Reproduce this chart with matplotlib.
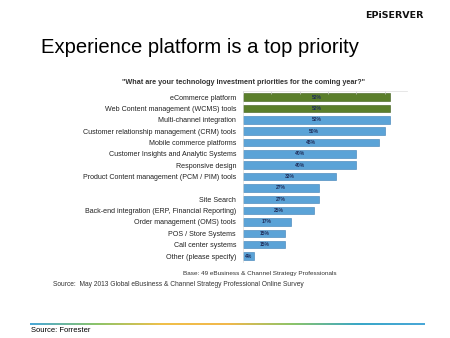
import numpy as np
import matplotlib.pyplot as plt
from matplotlib.colors import LinearSegmentedColormap

plt.rcParams['font.family'] = ['Liberation Sans', 'DejaVu Sans']

categories = [
    'eCommerce platform',
    'Web Content management (WCMS) tools',
    'Multi-channel integration',
    'Customer relationship management (CRM) tools',
    'Mobile commerce platforms',
    'Customer Insights and Analytic Systems',
    'Responsive design',
    'Product Content management (PCM / PIM) tools',
    '',
    'Site Search',
    'Back-end integration (ERP, Financial Reporting)',
    'Order management (OMS) tools',
    'POS / Store Systems',
    'Call center systems',
    'Other (please specify)',
]
values = [52, 52, 52, 50, 48, 40, 40, 33, 27, 27, 25, 17, 15, 15, 4]
highlight = [True, True] + [False] * 13

green = '#5b7f2b'
blue = '#5ba3d7'

fig = plt.figure(figsize=(4.5, 3.38), dpi=100)
fig.patch.set_facecolor('white')

# slide header
fig.text(0.942, 0.955, 'EPiSERVER', ha='right', va='center', fontsize=6.8,
         fontweight='bold', family='DejaVu Sans', color='#111111')
fig.text(0.091, 0.844, 'Experience platform is a top priority', ha='left',
         va='baseline', fontsize=14.6, color='black')

ax = fig.add_axes([0.54, 0.2257, 0.365, 0.504])
y = np.arange(len(values))
colors = [green if h else blue for h in highlight]
edges = ['#3f5e1c' if h else '#3c7fb5' for h in highlight]
ax.barh(y, values, height=0.66, color=colors, edgecolor=edges, linewidth=0.4)
for yi, v in zip(y, values):
    ax.text(v / 2, yi, f'{v}%', ha='center', va='center', fontsize=3.6,
            fontweight='bold', color='#1f2d5a')

ax.set_xlim(0, 58)
ax.set_ylim(len(values) - 0.5, -0.5)
ax.set_yticks(y)
ax.set_yticklabels(categories, fontsize=5.15, color='#222222')
ax.tick_params(axis='y', length=0, pad=5)
ax.xaxis.tick_top()
ax.set_xticks(np.arange(0, 60, 10))
ax.tick_params(axis='x', direction='in', length=2, width=0.5, color='#c8c8c8',
               labeltop=False)
for side in ['right', 'bottom']:
    ax.spines[side].set_visible(False)
for side in ['top', 'left']:
    ax.spines[side].set_color('#dddddd')
    ax.spines[side].set_linewidth(0.5)

fig.text(0.54, 0.757, '"What are your technology investment priorities for the coming year?"',
         ha='center', va='center', fontsize=5.2, fontweight='bold', color='#333333')
fig.text(0.749, 0.192, 'Base: 49 eBusiness & Channel Strategy Professionals',
         ha='right', va='center', fontsize=4.6, color='#333333')
fig.text(0.118, 0.159, 'Source:  May 2013 Global eBusiness & Channel Strategy Professional Online Survey',
         ha='left', va='center', fontsize=4.75, color='#333333')

# footer rule with colour gradient
rule = fig.add_axes([0.066, 0.038, 0.876, 0.006])
cmap = LinearSegmentedColormap.from_list(
    'rule', ['#4aa8d8', '#8cc46a', '#f0c04a', '#f2b84c', '#8cc46a', '#3aa7c8', '#4aa8d8'])
rule.imshow(np.linspace(0, 1, 256)[None, :], aspect='auto', cmap=cmap)
rule.axis('off')
fig.text(0.068, 0.022, 'Source: Forrester', ha='left', va='center', fontsize=5.5,
         color='black')

fig.savefig('out.png', dpi=100, facecolor='white')
